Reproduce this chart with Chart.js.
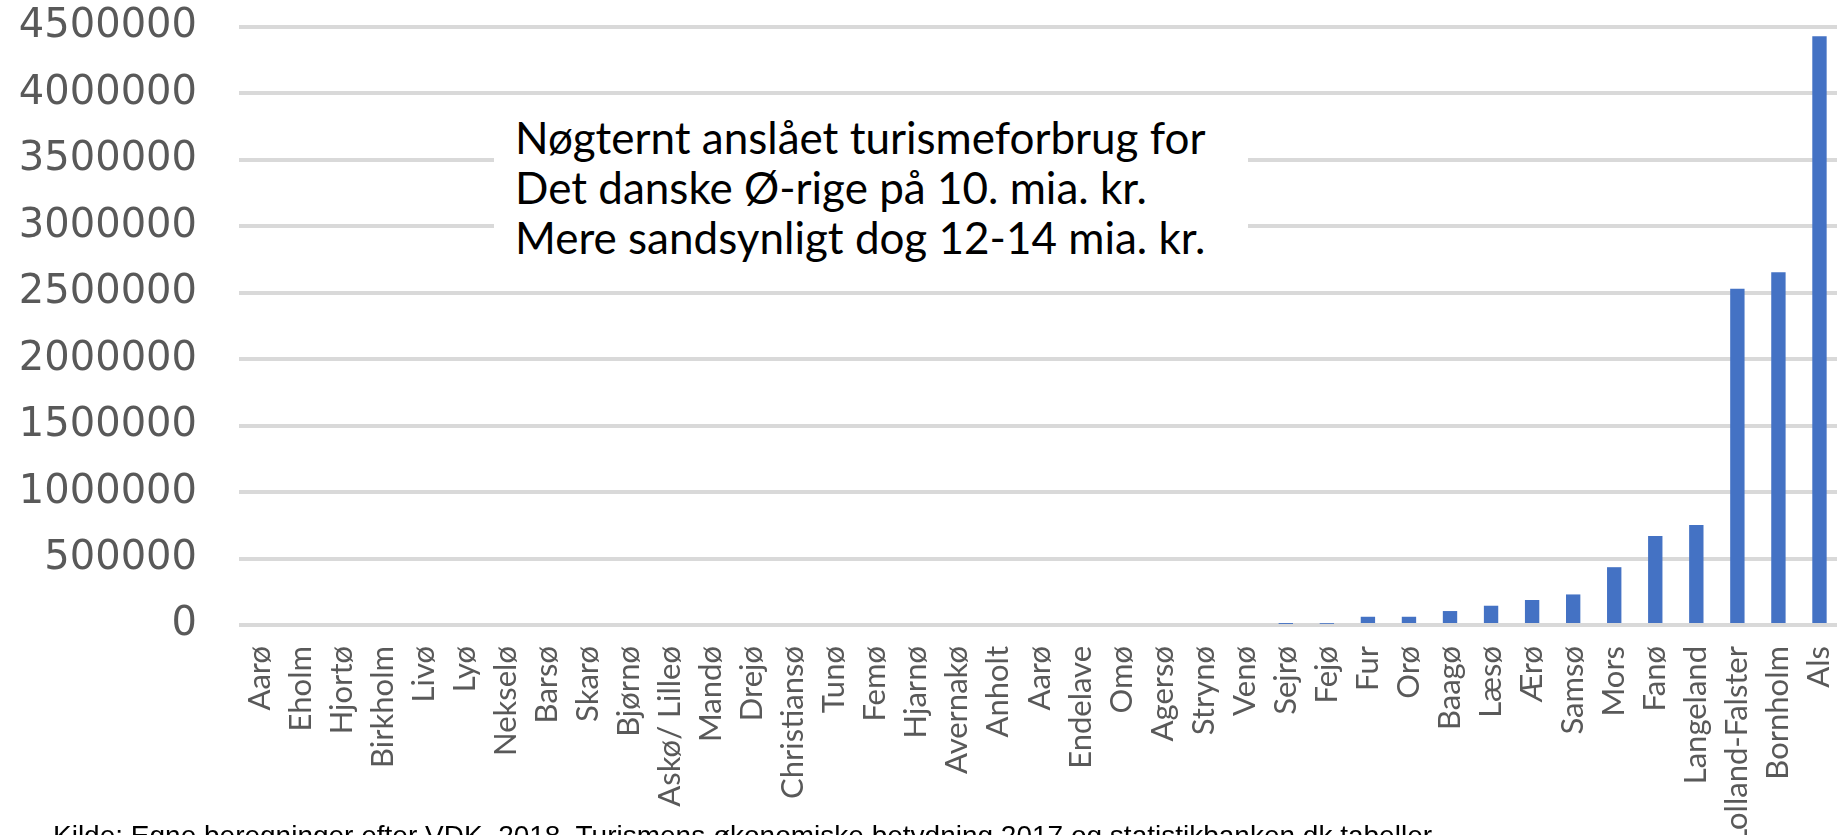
<!DOCTYPE html>
<html>
<head>
<meta charset="utf-8">
<script src="https://cdn.jsdelivr.net/npm/chart.js@4/dist/chart.umd.min.js"></script>
<style>
  html, body { margin: 0; padding: 0; background: #fff; overflow: hidden; }
  #wrap { position: relative; width: 1837px; height: 835px; overflow: hidden; }
  #chart { position: absolute; left: 0; top: 0; }
  .note {
    position: absolute; left: 494px; top: 95px; width: 754px; height: 190px;
    background: #fff; padding-left: 21px; padding-top: 17px; box-sizing: border-box;
    font-family: Lato, "Noto Sans", sans-serif; font-size: 44px; line-height: 50px; color: #000;
    white-space: nowrap;
  }
  .source {
    position: absolute; left: 53px; top: 822px;
    font-family: "Liberation Sans", Arial, sans-serif; font-size: 28px; line-height: 28px; color: #000;
    white-space: nowrap;
  }
</style>
</head>
<body>
<div id="wrap">
  <canvas id="chart" width="1841" height="835"></canvas>
  <div class="note">Nøgternt anslået turismeforbrug for<br>Det danske Ø-rige på 10. mia. kr.<br>Mere sandsynligt dog 12-14 mia. kr.</div>
  <div class="source">Kilde: Egne beregninger efter VDK, 2018. Turismens økonomiske betydning 2017 og statistikbanken.dk tabeller</div>
</div>
<script>
// øer, sorteret efter turismeforbrug
const islands = ["Aarø", "Eholm", "Hjortø", "Birkholm", "Livø", "Lyø", "Nekselø", "Barsø", "Skarø", "Bjørnø",
  "Askø/ Lilleø", "Mandø", "Drejø", "Christiansø", "Tunø", "Femø", "Hjarnø", "Avernakø", "Anholt", "Aarø",
  "Endelave", "Omø", "Agersø", "Strynø", "Venø", "Sejrø", "Fejø", "Fur", "Orø", "Baagø",
  "Læsø", "Ærø", "Samsø", "Mors", "Fanø", "Langeland", "Lolland-Falster", "Bornholm", "Als"];

// de mindste øer er ikke synlige i grafen
const forbrug = [0, 0, 0, 0, 0, 0, 0, 0, 0, 0,
  0, 0, 0, 0, 0, 0, 0, 0, 0, 0,
  0, 0, 0, 0, 0, 8000, 9000, 62000, 62000, 105000,
  145000, 188000, 230000, 435000, 670000, 752000, 2530000, 2655000, 4430000];

const yMax = 4500000;
const yStep = 500000;

const config = {
  type: "bar",
  data: {
    labels: islands,
    datasets: [
      {
        label: "Turismeforbrug",
        data: forbrug,
        backgroundColor: "#4472c4",
        barPercentage: 0.35,
        categoryPercentage: 1.0,
        inflateAmount: 0,
      },
    ],
  },
  options: {
    responsive: false,
    animation: false,
    layout: { padding: { top: 27, right: 1, left: 0, bottom: 0 } },
    plugins: {
      legend: { display: false },
      tooltip: { enabled: false },
    },
    scales: {
      x: {
        grid: { display: false, drawTicks: false },
        border: { display: false },
        ticks: {
          autoSkip: false,
          minRotation: 90,
          maxRotation: 90,
          padding: 21,
          color: "#595959",
          font: { family: "Lato", size: 31 },
        },
        afterFit(scale) {
          scale.height = 210;
          scale.paddingLeft = 0;
          scale.paddingRight = 0;
        },
      },
      y: {
        min: 0,
        max: yMax,
        grid: { color: "#d9d9d9", lineWidth: 4, drawTicks: false },
        border: { display: false },
        ticks: {
          stepSize: yStep,
          padding: 42,
          color: "#595959",
          font: { family: "DejaVu Sans", size: 40 },
          callback: (value) => String(value),
        },
        afterFit(scale) {
          scale.width = 239;
          scale.paddingTop = 0;
          scale.paddingBottom = 0;
        },
      },
    },
  },
};

new Chart(document.getElementById("chart"), config);
</script>
</body>
</html>
